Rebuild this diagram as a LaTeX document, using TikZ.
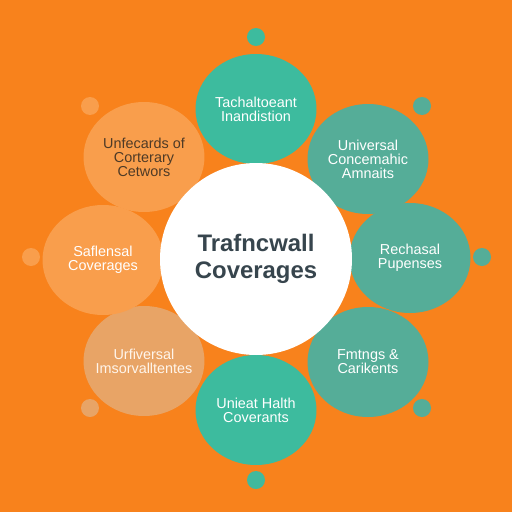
\documentclass[tikz,border=0pt]{standalone}
\usepackage{fontspec}
\setmainfont{Liberation Sans}
\usepackage{tikz}
\usetikzlibrary{positioning,shapes.geometric}

\definecolor{bgorange}{HTML}{F8821C}
\definecolor{tealA}{HTML}{3DBB9E}
\definecolor{tealB}{HTML}{55AD98}
\definecolor{peachA}{HTML}{F99E4C}
\definecolor{peachB}{HTML}{E8A466}
\definecolor{hubtext}{HTML}{37454D}
\definecolor{browntext}{HTML}{4E3A26}

\tikzset{
  bubble/.style={ellipse,inner sep=-1.5cm,minimum width=6.05cm,minimum height=5.5cm,
    align=center,font=\fontsize{20.5}{20}\selectfont,text=white},
  dot/.style={circle,inner sep=0pt,minimum size=0.9cm}
}

\begin{document}
\begin{tikzpicture}[x=0.05cm,y=-0.05cm]
  % fond
  \fill[bgorange] (0,0) rectangle (512,512);
  \useasboundingbox (0,0) rectangle (512,512);

  % petits points
  \node[dot,fill=tealA] (d1) at (256,37) {};
  \node[dot,fill=tealB] (d2) at (422,106) {};
  \node[dot,fill=tealB] (d3) at (482,257) {};
  \node[dot,fill=tealB] (d4) at (422,408) {};
  \node[dot,fill=tealA!85!tealB] (d5) at (256,480) {};
  \node[dot,fill=peachB] (d6) at (90,408) {};
  \node[dot,fill=peachA] (d7) at (31,257) {};
  \node[dot,fill=peachA] (d8) at (90,106) {};

  % bulles autour
  \node[bubble,fill=tealA] (top) at (256,109) {Tachaltoeant\\Inandistion};
  \node[bubble,fill=tealB] (tr) at (368,159) {Universal\\Concemahic\\Amnaits};
  \node[bubble,fill=tealB] (right) at (410,258) {Rechasal\\Pupenses};
  \node[bubble,fill=tealB] (br) at (368,362) {Fmtngs \&\\Carikents};
  \node[bubble,fill=tealA] (bottom) at (256,410) {Unieat Halth\\Coverants};
  \node[bubble,fill=peachB,text=white!92!orange] (bl) at (144,361) {Urfiversal\\Imsorvalltentes};
  \node[bubble,fill=peachA] (left) at (103,260) {Saflensal\\Coverages};
  \node[bubble,fill=peachA,text=browntext] (tl) at (144,157) {Unfecards of\\Corterary\\Cetwors};

  % centre
  \node[circle,fill=white,inner sep=0pt,minimum size=9.6cm,align=center,
    font=\fontsize{34}{38}\selectfont\bfseries,text=hubtext] (hub) at (256,259)
    {Trafncwall\\Coverages};
\end{tikzpicture}
\end{document}
